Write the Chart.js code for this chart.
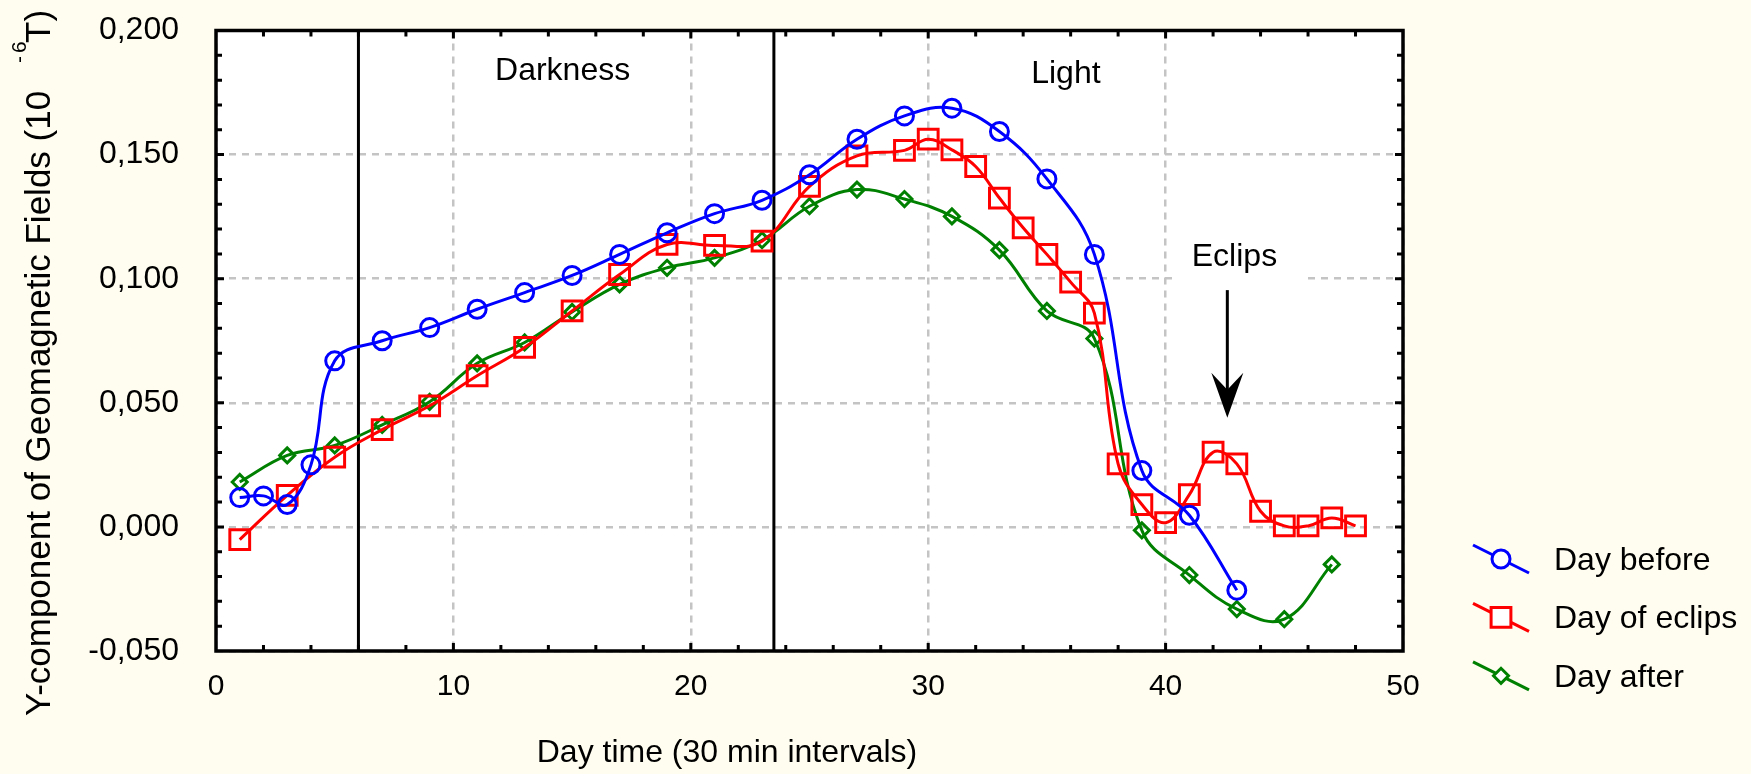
<!DOCTYPE html>
<html>
<head>
<meta charset="utf-8">
<script src="https://cdn.jsdelivr.net/npm/chart.js@4.4.0/dist/chart.umd.min.js"></script>
<style>
html, body { margin: 0; padding: 0; background: #fffdf0; }
</style>
</head>
<body>
<canvas id="lineChart" width="1751" height="774"></canvas>
<script>
// values
var beforeX = [1, 2, 3, 4, 5, 7, 9, 11, 13, 15, 17, 19, 21, 23, 25, 27, 29, 31, 33, 35, 37, 39, 41, 43];
var beforeY = [0.0118, 0.0125, 0.0090, 0.0250, 0.0669, 0.0750, 0.0803, 0.0877, 0.0944, 0.1013, 0.1098, 0.1185,
               0.1262, 0.1316, 0.1419, 0.1562, 0.1656, 0.1687, 0.1593, 0.1402, 0.1098, 0.0227, 0.0047, -0.0255];

var eclipsX = [1, 3, 5, 7, 9, 11, 13, 15, 17, 19, 21, 23, 25, 27, 29, 30, 31, 32, 33, 34, 35, 36, 37, 38,
               39, 40, 41, 42, 43, 44, 45, 46, 47, 48];
var eclipsY = [-0.0051, 0.0127, 0.0281, 0.0392, 0.0488, 0.0609, 0.0723, 0.0870, 0.1017, 0.1138, 0.1134, 0.1151,
               0.1372, 0.1495, 0.1517, 0.1562, 0.1519, 0.1452, 0.1325, 0.1205, 0.1098, 0.0986, 0.0861, 0.0254,
               0.0090, 0.0017, 0.0130, 0.0301, 0.0254, 0.0063, 0.0004, 0.0004, 0.0036, 0.0004];

var afterX = [1, 3, 5, 7, 9, 11, 13, 15, 17, 19, 21, 23, 25, 27, 29, 31, 33, 35, 37, 39, 41, 43, 45, 47];
var afterY = [0.0181, 0.0288, 0.0328, 0.0411, 0.0504, 0.0659, 0.0743, 0.0866, 0.0977, 0.1044, 0.1084, 0.1155,
              0.1292, 0.1359, 0.1321, 0.1251, 0.1115, 0.0870, 0.0759, -0.0014, -0.0194, -0.0331, -0.0372, -0.0151];

var seriesNames = ['Day before', 'Day of eclips', 'Day after'];
var xTicks = [0, 10, 20, 30, 40, 50];
var yTicks = [-0.05, 0, 0.05, 0.1, 0.15, 0.2];

// annotations (data coordinates)
var phaseLines = [6, 23.5];
var phaseNames = ['Darkness', 'Light'];
var phaseNameX = [14.6, 35.8];
var phaseNameY = [0.180, 0.179];
var eclipsNote = { text: 'Eclips', x: 42.9, y: 0.1053 };
var arrowX = 42.6, arrowFrom = 0.0954, arrowTo = 0.0440;

var FONT = '"Liberation Sans", Arial, sans-serif';

function pairs(xs, ys) {
    return xs.map(function (x, i) { return { x: x, y: ys[i] }; });
}

function marker(c, style, x, y, r) {
    c.beginPath();
    if (style === 'circle') {
        c.arc(x, y, r, 0, Math.PI * 2);
    } else if (style === 'rect') {
        var s = Math.SQRT1_2 * r;
        c.rect(x - s, y - s, 2 * s, 2 * s);
    } else {
        c.moveTo(x - r, y); c.lineTo(x, y - r); c.lineTo(x + r, y); c.lineTo(x, y + r); c.closePath();
    }
    c.fill();
    c.stroke();
}

function noPad(s) {
    s.paddingTop = 0; s.paddingBottom = 0; s.paddingLeft = 0; s.paddingRight = 0;
}

var paper = {
    id: 'paper',
    beforeDraw: function (chart) {
        var c = chart.ctx, a = chart.chartArea;
        c.save();
        c.fillStyle = '#fffdf0';
        c.fillRect(0, 0, chart.width, chart.height);
        c.fillStyle = '#ffffff';
        c.fillRect(a.left, a.top, a.right - a.left, a.bottom - a.top);
        c.restore();
    },
    beforeDatasetsDraw: function (chart) {
        var c = chart.ctx, a = chart.chartArea, sx = chart.scales.x, sy = chart.scales.y;
        c.save();
        // white box behind the Eclips label
        c.fillStyle = '#ffffff';
        var bx = sx.getPixelForValue(eclipsNote.x) - 57;
        var by = sy.getPixelForValue(eclipsNote.y) - 36;
        c.fillRect(bx, by, 128, 58);
        // darkness / light borders
        c.strokeStyle = '#000';
        c.lineWidth = 3;
        phaseLines.forEach(function (v) {
            var px = sx.getPixelForValue(v);
            c.beginPath(); c.moveTo(px, a.top); c.lineTo(px, a.bottom); c.stroke();
        });
        c.restore();
    },
    afterDatasetsDraw: function (chart) {
        var c = chart.ctx, a = chart.chartArea, sx = chart.scales.x, sy = chart.scales.y;
        c.save();
        c.strokeStyle = '#000';
        c.lineWidth = 3;
        for (var v = 2; v < 50; v += 2) {
            var px = sx.getPixelForValue(v), len = v % 10 === 0 ? 8 : 6;
            c.beginPath();
            c.moveTo(px, a.bottom); c.lineTo(px, a.bottom - len);
            c.moveTo(px, a.top); c.lineTo(px, a.top + len);
            c.stroke();
        }
        for (var k = -4; k < 20; k++) {
            var py = sy.getPixelForValue(k / 100), ln = k % 5 === 0 ? 8 : 6;
            c.beginPath();
            c.moveTo(a.left, py); c.lineTo(a.left + ln, py);
            c.moveTo(a.right, py); c.lineTo(a.right - ln, py);
            c.stroke();
        }
        c.lineWidth = 3.5;
        c.strokeRect(a.left, a.top, a.right - a.left, a.bottom - a.top);
        c.restore();
    },
    afterDraw: function (chart) {
        var c = chart.ctx, sx = chart.scales.x, sy = chart.scales.y;
        c.save();
        c.fillStyle = '#000';
        c.font = '32px ' + FONT;
        c.textAlign = 'center';
        c.textBaseline = 'alphabetic';
        phaseNames.forEach(function (t, i) {
            c.fillText(t, sx.getPixelForValue(phaseNameX[i]), sy.getPixelForValue(phaseNameY[i]));
        });
        c.fillText(eclipsNote.text, sx.getPixelForValue(eclipsNote.x), sy.getPixelForValue(eclipsNote.y));

        // arrow
        var ax = sx.getPixelForValue(arrowX), ay0 = sy.getPixelForValue(arrowFrom), ay1 = sy.getPixelForValue(arrowTo);
        c.strokeStyle = '#000';
        c.lineWidth = 3;
        c.beginPath(); c.moveTo(ax, ay0); c.lineTo(ax, ay1 - 20); c.stroke();
        c.beginPath();
        c.moveTo(ax, ay1);
        c.lineTo(ax - 16, ay1 - 45);
        c.lineTo(ax, ay1 - 28);
        c.lineTo(ax + 16, ay1 - 45);
        c.closePath();
        c.fill();

        // x title
        c.font = '32px ' + FONT;
        c.fillText('Day time (30 min intervals)', 727, 762);

        // y title
        c.translate(50, 716);
        c.rotate(-Math.PI / 2);
        c.textAlign = 'left';
        c.font = '35px ' + FONT;
        c.fillText('Y-component of Geomagnetic Fields (10', 0, 0);
        c.fillText('T)', 673, 0);
        c.font = '21px ' + FONT;
        c.fillText('-', 653, -24);
        c.fillText('6', 663, -24);
        c.setTransform(1, 0, 0, 1, 0, 0);

        // legend
        chart.data.datasets.forEach(function (ds, i) {
            var y0 = 545 + i * 58.4;
            c.strokeStyle = ds.borderColor;
            c.lineWidth = 3;
            c.beginPath(); c.moveTo(1473, y0); c.lineTo(1529, y0 + 28); c.stroke();
            c.fillStyle = '#ffffff';
            marker(c, ds.pointStyle, 1501, y0 + 14, ds.pointRadius);
            c.fillStyle = '#000';
            c.font = '32px ' + FONT;
            c.textAlign = 'left';
            c.fillText(ds.label, 1554, y0 + 25);
        });
        c.restore();
    }
};

var ctx = document.getElementById('lineChart').getContext('2d');
var myChart = new Chart(ctx, {
    type: 'line',
    data: {
        datasets: [{
            label: seriesNames[0],
            data: pairs(beforeX, beforeY),
            borderColor: '#0000ff',
            pointStyle: 'circle',
            pointRadius: 9
        }, {
            label: seriesNames[1],
            data: pairs(eclipsX, eclipsY),
            borderColor: '#ff0000',
            pointStyle: 'rect',
            pointRadius: 14
        }, {
            label: seriesNames[2],
            data: pairs(afterX, afterY),
            borderColor: '#008000',
            pointStyle: 'rectRot',
            pointRadius: 7.5
        }]
    },
    options: {
        responsive: false,
        animation: false,
        events: [],
        elements: {
            line: { borderWidth: 3, tension: 0.4, fill: false },
            point: { borderWidth: 3, backgroundColor: 'rgba(0,0,0,0)', hoverRadius: 0 }
        },
        layout: { padding: { top: 30.5, right: 348, bottom: 0, left: 0 } },
        plugins: { legend: { display: false }, tooltip: { enabled: false } },
        scales: {
            x: {
                type: 'linear',
                min: 0, max: 50,
                afterBuildTicks: function (s) { s.ticks = xTicks.map(function (v) { return { value: v }; }); },
                afterFit: function (s) { s.height = 123; noPad(s); },
                ticks: { color: '#000', font: { family: FONT, size: 30 }, padding: 18 },
                grid: { color: '#c4c4c4', lineWidth: 2.5, drawTicks: false },
                border: { display: false, dash: [7, 6] }
            },
            y: {
                min: -0.05, max: 0.2,
                afterBuildTicks: function (s) { s.ticks = yTicks.map(function (v) { return { value: v }; }); },
                afterFit: function (s) { s.width = 216; noPad(s); },
                ticks: {
                    color: '#000', font: { family: FONT, size: 32 }, padding: 37,
                    callback: function (v) { return v.toFixed(3).replace('.', ','); }
                },
                grid: { color: '#c4c4c4', lineWidth: 2.5, drawTicks: false },
                border: { display: false, dash: [7, 6] }
            }
        }
    },
    plugins: [paper]
});
</script>
</body>
</html>
